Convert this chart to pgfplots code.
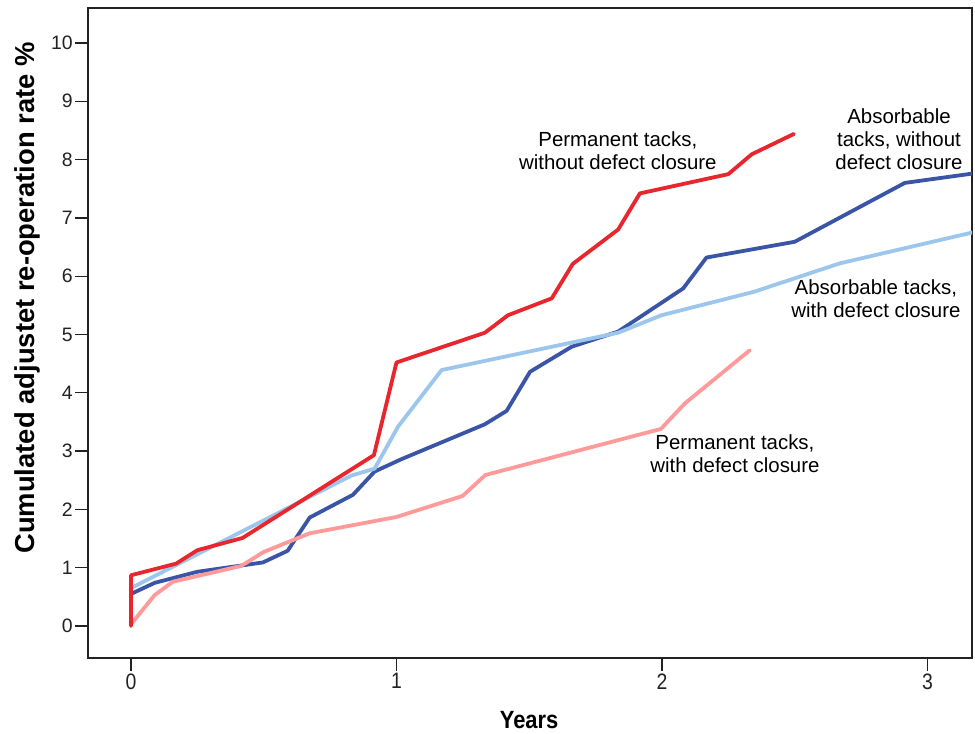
\documentclass[border=0pt]{standalone}
\usepackage{fontspec}
\setmainfont{Liberation Sans}
\usepackage{pgfplots}
\pgfplotsset{compat=1.18}
\definecolor{pwo}{HTML}{E8262D}
\definecolor{pwi}{HTML}{FF9A9A}
\definecolor{awo}{HTML}{3A54A6}
\definecolor{awi}{HTML}{9CC6EC}
\definecolor{axc}{HTML}{222222}
\begin{document}
\begin{tikzpicture}
\begin{axis}[
  name=ax,
  scale only axis,
  width=884bp, height=650bp,
  xmin=-0.162, xmax=3.168,
  ymin=-0.549, ymax=10.60,
  xtick={0,1,2,3},
  ytick={0,1,...,10},
  tick align=outside,
  tick pos=left,
  major tick length=13bp,
  axis line style={axc, line width=1.3bp},
  tick style={axc, line width=1.3bp},
  /pgf/number format/assume math mode=true,
  tick label style={font=\fontsize{19.5}{20}\selectfont, text=axc},
  xticklabel style={inner sep=2bp, yscale=1.15},
  yticklabel style={inner sep=2bp},
  xlabel={\scalebox{0.88}[1]{\bfseries Years}},
  ylabel={\bfseries Cumulated adjustet re-operation rate \%},
  xlabel style={font=\fontsize{25}{28}\selectfont, at={(axis description cs:0.499,-0.0954)}, anchor=center},
  ylabel style={font=\fontsize{27.5}{29}\selectfont, at={(axis description cs:-0.068,0.554)}, anchor=center},
  every axis plot/.append style={line width=3.8bp, line join=round, line cap=round},
  clip=true,
]
\addplot[awo] coordinates {
(0,0.55) (0.089,0.74) (0.25,0.93) (0.497,1.09) (0.59,1.29) (0.673,1.86) (0.836,2.25) (0.918,2.65) (1.018,2.86) (1.333,3.46) (1.415,3.69) (1.503,4.36) (1.66,4.79) (1.835,5.05) (2.08,5.79) (2.168,6.32) (2.5,6.59) (2.915,7.60) (3.17,7.76)
};
\addplot[pwi] coordinates {
(0,0.03) (0.089,0.53) (0.158,0.76) (0.415,1.03) (0.5,1.27) (0.673,1.59) (1.0,1.87) (1.249,2.23) (1.335,2.59) (1.996,3.38) (2.087,3.82) (2.331,4.73)
};
\addplot[awi] coordinates {
(0,0.65) (0.83,2.58) (0.918,2.70) (1.006,3.42) (1.17,4.39) (1.835,5.03) (1.998,5.33) (2.345,5.73) (2.67,6.22) (3.17,6.75)
};
\addplot[pwo] coordinates {
(0,0) (0,0.87) (0.17,1.07) (0.25,1.30) (0.42,1.51) (0.915,2.93) (1.0,4.52) (1.333,5.03) (1.42,5.33) (1.585,5.62) (1.664,6.21) (1.835,6.80) (1.917,7.42) (2.25,7.75) (2.338,8.09) (2.497,8.44)
};
\node[font=\fontsize{20.5}{23}\selectfont, align=center, text=black] at (axis cs:1.834,8.16) {Permanent tacks,\\without defect closure};
\node[font=\fontsize{20.5}{23}\selectfont, align=center, text=black] at (axis cs:2.893,8.35) {Absorbable\\tacks, without\\defect closure};
\node[font=\fontsize{20.5}{23}\selectfont, align=center, text=black] at (axis cs:2.806,5.61) {Absorbable tacks,\\with defect closure};
\node[font=\fontsize{20.5}{23}\selectfont, align=center, text=black] at (axis cs:2.275,2.95) {Permanent tacks,\\with defect closure};
\end{axis}
\path ([xshift=-88bp,yshift=-76bp]ax.south west) rectangle ([xshift=3bp,yshift=8bp]ax.north east);
\end{tikzpicture}
\end{document}
